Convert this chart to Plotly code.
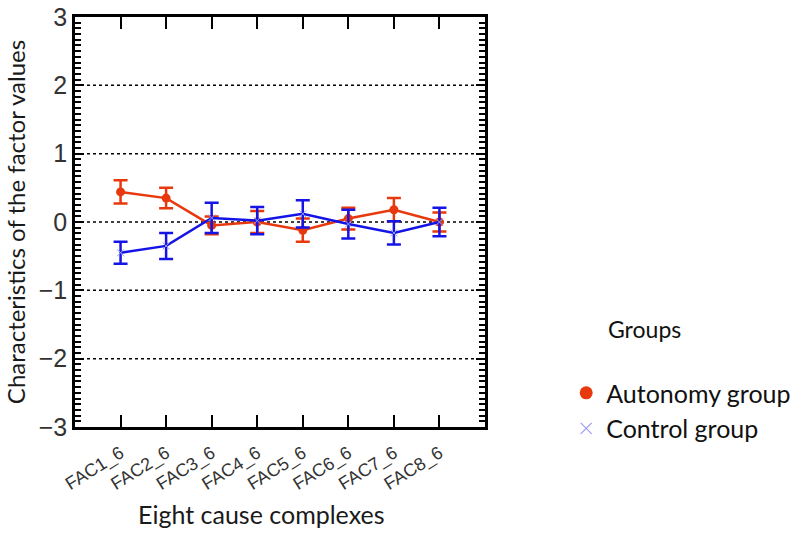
import plotly.graph_objects as go

categories = ["FAC1_6", "FAC2_6", "FAC3_6", "FAC4_6", "FAC5_6", "FAC6_6", "FAC7_6", "FAC8_6"]

autonomy_mean = [0.44, 0.35, -0.05, 0.00, -0.12, 0.05, 0.18, 0.00]
autonomy_err = [0.17, 0.15, 0.13, 0.16, 0.17, 0.16, 0.17, 0.14]

control_mean = [-0.45, -0.35, 0.06, 0.02, 0.12, -0.03, -0.16, 0.00]
control_err = [0.16, 0.19, 0.22, 0.20, 0.20, 0.21, 0.17, 0.21]

grid_levels = [-2, -1, 0, 1, 2]

ORANGE = "#E8380D"
BLUE = "#1414E6"
LAVENDER = "#9C9CF2"
TITLE_FONT = "Lato, Open Sans, sans-serif"

fig = go.Figure()

fig.add_trace(go.Scatter(
    x=categories, y=autonomy_mean, mode="lines+markers",
    line=dict(color=ORANGE, width=2.5),
    marker=dict(color=ORANGE, size=9, symbol="circle"),
    error_y=dict(type="data", array=autonomy_err, color=ORANGE, thickness=2.5, width=7),
    showlegend=False,
))
fig.add_trace(go.Scatter(
    x=categories, y=control_mean, mode="lines+markers",
    line=dict(color=BLUE, width=2.5),
    marker=dict(color=LAVENDER, size=7, symbol="x-thin", line=dict(color=LAVENDER, width=1)),
    error_y=dict(type="data", array=control_err, color=BLUE, thickness=2.5, width=7),
    showlegend=False,
))

# legend entries
fig.add_trace(go.Scatter(
    x=[None], y=[None], mode="markers", name="Autonomy group",
    marker=dict(color=ORANGE, size=13, symbol="circle"),
))
fig.add_trace(go.Scatter(
    x=[None], y=[None], mode="markers", name="Control group",
    marker=dict(color=LAVENDER, size=11, symbol="x-thin", line=dict(color=LAVENDER, width=1.2)),
))

for v in grid_levels:
    fig.add_shape(type="line", xref="paper", x0=0, x1=1, yref="y", y0=v, y1=v,
                  line=dict(color="black", width=1.5, dash="dot"), layer="below")

fig.update_layout(
    width=801, height=533,
    margin=dict(l=75, r=316, t=17, b=106, autoexpand=False),
    paper_bgcolor="white", plot_bgcolor="white",
    font=dict(family="Liberation Sans, Arial, sans-serif", color="#222222"),
    xaxis=dict(
        type="category", range=[-1, 8],
        showline=True, linecolor="black", linewidth=2.5, mirror="ticks",
        ticks="inside", ticklen=12, tickwidth=2, tickcolor="black",
        tickangle=-32, tickfont=dict(size=18, color="#333333"), ticklabelstandoff=6,
        showgrid=False,
    ),
    yaxis=dict(
        range=[-3, 3], tickmode="linear", tick0=0, dtick=1,
        showline=True, linecolor="black", linewidth=2.5, mirror="allticks",
        ticks="inside", ticklen=9, tickwidth=2, tickcolor="black",
        minor=dict(tickmode="linear", tick0=0, dtick=1 / 12, ticks="inside", ticklen=6,
                   tickwidth=1.5, tickcolor="black", showgrid=False),
        tickfont=dict(size=25, color="#333333"),
        showgrid=False, zeroline=False,
        title=dict(text="Characteristics of the factor values", standoff=7,
                   font=dict(family=TITLE_FONT, size=24, color="#1a1a1a")),
    ),
    legend=dict(
        x=1.198, y=0.04, xanchor="left", yanchor="middle",
        font=dict(family=TITLE_FONT, size=25, color="#111111"),
        bgcolor="rgba(0,0,0,0)", itemwidth=30, tracegroupgap=0,
    ),
    annotations=[
        dict(text="Groups", xref="paper", yref="paper", x=1.296, y=0.24,
             xanchor="left", yanchor="middle", showarrow=False,
             font=dict(family=TITLE_FONT, size=23, color="#111111")),
        dict(text="Eight cause complexes", xref="paper", yref="paper", x=0.456, y=-0.212,
             xanchor="center", yanchor="middle", showarrow=False,
             font=dict(family=TITLE_FONT, size=25, color="#1a1a1a")),
    ],
)

fig.write_html("out.html")
